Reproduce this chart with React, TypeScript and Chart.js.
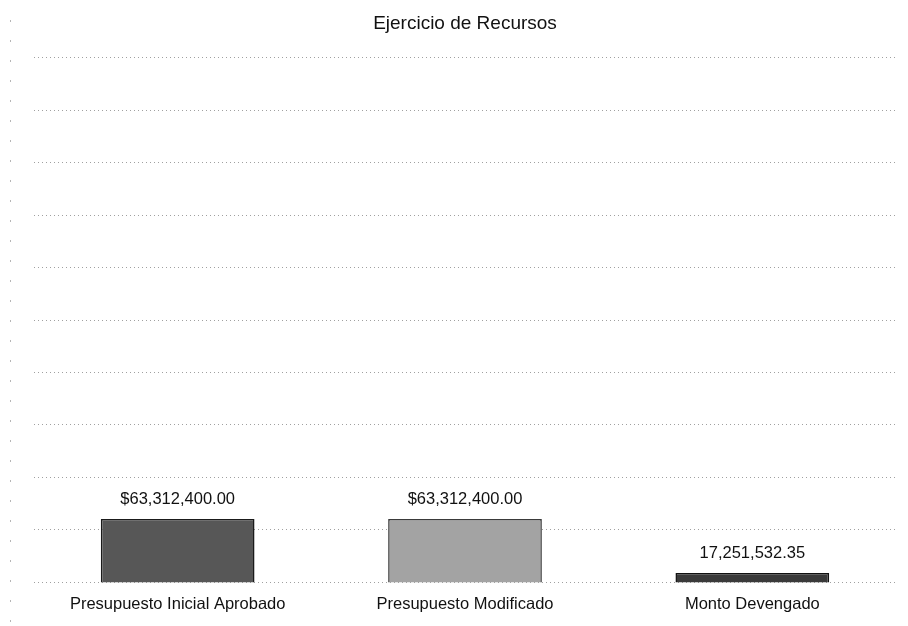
import React, { useEffect, useRef } from "react";
import { Chart, registerables } from "chart.js";

Chart.register(...registerables);

const categories = ["Presupuesto Inicial Aprobado", "Presupuesto Modificado", "Monto Devengado"];
const values = [63312400.0, 63312400.0, 17251532.35];
const valueLabels = ["$63,312,400.00", "$63,312,400.00", "17,251,532.35"];
const barColors = ["#575757", "#a3a3a3", "#3a3a3a"];
const barBorders = ["#1a1a1a", "#3a3a3a", "#111111"];
const titleText = "Ejercicio de Recursos";
const yMin = 9500000;
const yStep = 44700000;
const yMax = yMin + 10 * yStep;

const FONT = "'Liberation Sans', Arial, sans-serif";

const valueLabelPlugin = {
  id: "valueLabels",
  afterDatasetsDraw(chart: any) {
    const ctx = chart.ctx;
    const meta = chart.getDatasetMeta(0);
    ctx.save();
    ctx.font = `16.5px ${FONT}`;
    ctx.fillStyle = "#111";
    ctx.textAlign = "center";
    ctx.textBaseline = "middle";
    meta.data.forEach((el: any, i: number) => {
      ctx.fillText(valueLabels[i], el.x, el.y - 20);
    });
    ctx.restore();
  },
};

const leftDotsPlugin = {
  id: "leftDots",
  beforeDraw(chart: any) {
    const ctx = chart.ctx;
    ctx.save();
    ctx.strokeStyle = "#b5b5b5";
    ctx.lineWidth = 1;
    ctx.setLineDash([2, 18]);
    ctx.beginPath();
    ctx.moveTo(10.5, 20);
    ctx.lineTo(10.5, 622);
    ctx.stroke();
    ctx.restore();
  },
};

export default function App() {
  const ref = useRef<HTMLCanvasElement | null>(null);
  useEffect(() => {
    if (!ref.current) return;
    const chart = new Chart(ref.current, {
      type: "bar",
      data: {
        labels: categories,
        datasets: [
          {
            data: values,
            backgroundColor: barColors,
            borderColor: barBorders,
            borderWidth: 1.5,
            barPercentage: 0.535,
            categoryPercentage: 1,
          },
        ],
      },
      options: {
        animation: false,
        responsive: false,
        maintainAspectRatio: false,
        layout: { padding: { left: 34, right: 12, top: 0, bottom: 0 } },
        plugins: {
          legend: { display: false },
          tooltip: { enabled: false },
          title: {
            display: true,
            text: titleText,
            color: "#111",
            font: { family: FONT, size: 19, weight: "normal" },
            padding: { top: 12, bottom: 23 },
          },
        },
        scales: {
          x: {
            grid: { display: false, drawTicks: false },
            border: { display: false },
            ticks: {
              color: "#111",
              font: { family: FONT, size: 16.5 },
              padding: 12,
              maxRotation: 0,
            },
          },
          y: {
            min: yMin,
            max: yMax,
            ticks: { display: false, stepSize: yStep },
            grid: { color: "#a0a0a0", lineWidth: 1, drawTicks: false },
            border: { display: false, dash: [1, 3] },
          },
        },
      },
      plugins: [valueLabelPlugin, leftDotsPlugin],
    });
    return () => chart.destroy();
  }, []);
  return (
    <div style={{ position: "fixed", left: 0, top: 0, width: 908, height: 626, background: "#fff" }}>
      <canvas ref={ref} width={908} height={626} style={{ display: "block" }} />
    </div>
  );
}
